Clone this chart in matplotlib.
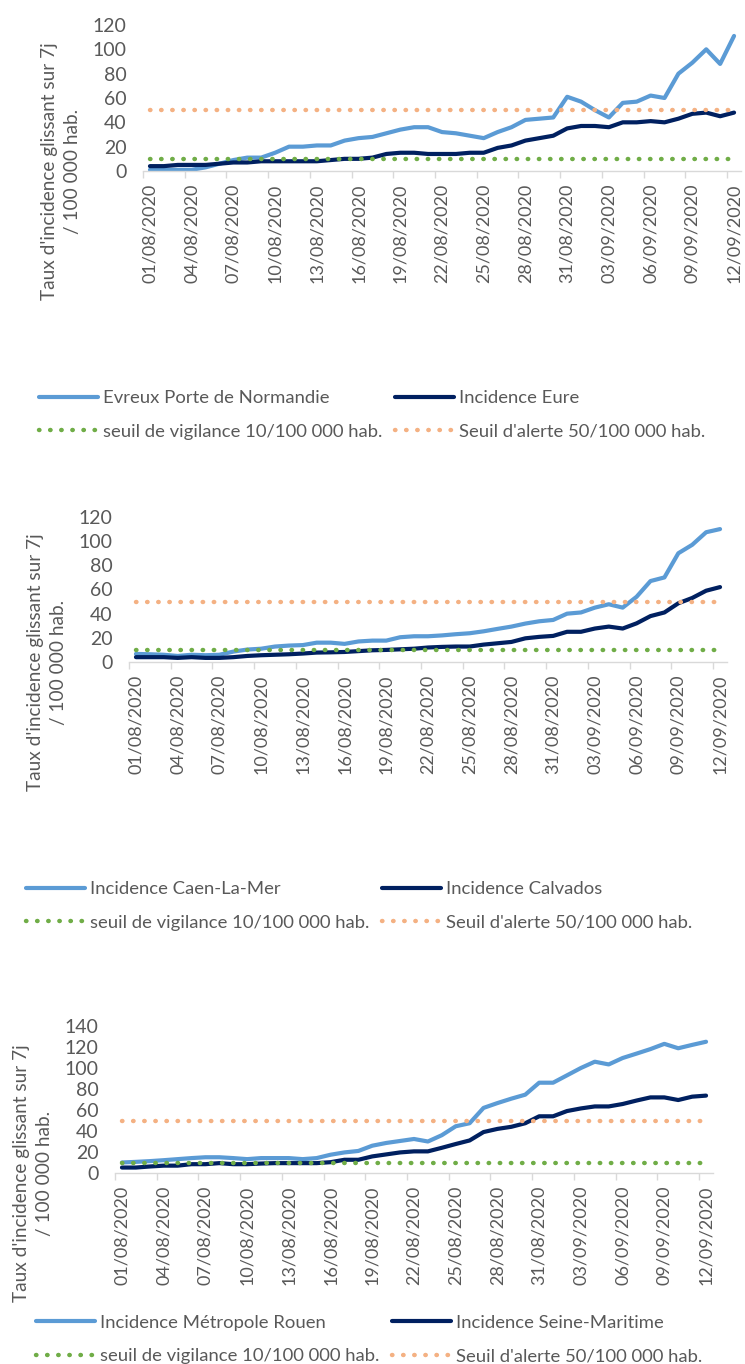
import numpy as np
import pandas as pd
import matplotlib
matplotlib.use("Agg")
import matplotlib.pyplot as plt

plt.rcParams['font.family'] = ['Lato', 'DejaVu Sans']

# daily dates 01/08/2020 -> 12/09/2020
dates = pd.date_range('2020-08-01', '2020-09-12', freq='D')
date_labels = [d.strftime('%d/%m/%Y') for d in dates]

# panel 1 - Eure
evreux = [1, 1, 1, 1, 3, 6, 9, 11, 11, 15, 20, 20, 21, 21, 25, 27, 28, 31, 34, 36, 36,
          32, 31, 29, 27, 32, 36, 42, 43, 44, 61, 57, 50, 44, 56, 57, 62, 60, 80, 89, 100, 88, 111]
eure = [4, 4, 5, 5, 5, 6, 7, 7, 8, 8, 8, 8, 8, 9, 10, 10, 11, 14, 15, 15, 14,
        14, 14, 15, 15, 19, 21, 25, 27, 29, 35, 37, 37, 36, 40, 40, 41, 40, 43, 47, 48, 45, 48]

# panel 2 - Calvados
caen = [6.7, 6.4, 6, 5, 6, 5.6, 6, 8.6, 10.3, 11, 12.8, 13.6, 14, 16, 16, 15, 17, 17.7, 17.7, 20.5, 21.3,
        21.3, 22, 23, 23.8, 25.4, 27.4, 29.3, 31.8, 33.7, 34.8, 40, 41, 45, 47.8, 45, 54, 67, 70, 90, 97, 107.4, 110]
calvados = [4, 4, 4, 3.4, 4, 3.4, 3.4, 4, 5, 5.6, 6, 6.4, 7, 7.8, 8, 8.3, 9, 9.7, 10, 10.5, 11,
            12, 12.5, 12.8, 12.8, 14.4, 15.5, 16.6, 19.6, 20.8, 21.6, 25, 25, 27.7, 29.3, 27.7, 32, 38, 41, 48.6, 53, 59, 62]

# panel 3 - Seine-Maritime
rouen = [10, 10.6, 11.3, 12.2, 13.2, 14.2, 15, 15, 14.2, 13.2, 14.2, 14.2, 14.2, 13.2, 14.2, 17.4, 19.6, 21, 26, 28.6, 30.5,
         32.4, 30, 36, 44.5, 47.4, 62, 66.6, 70.8, 74.6, 86, 86, 93, 100, 106, 103.4, 109.5, 113.7, 118, 123, 118.8, 122, 125]
seine_maritime = [5.2, 5.2, 6.2, 7, 7, 8.4, 8.4, 9.4, 8.4, 8.4, 9, 9.4, 9.4, 9.4, 9.4, 10.3, 12.6, 12.6, 15.8, 17.7, 19.6,
                  20.6, 20.6, 24, 27.6, 31, 39, 42, 44, 47.4, 54, 54, 59, 61.5, 63.4, 63.4, 65.7, 69, 72, 72, 69.5, 72.7, 73.7]

seuil_vigilance = 10
seuil_alerte = 50

W, H = 745, 1364
panels = [
    # local, dept, labels, ymax, axes (left px, bottom px, width px, height px), legend (x px, row1 px, row2 px)
    (evreux, eure, 'Evreux Porte de Normandie', 'Incidence Eure', 120,
     (143, 171, 598, 146), (39, 398, 432)),
    (caen, calvados, 'Incidence Caen-La-Mer', 'Incidence Calvados', 120,
     (129, 662, 598, 145), (26, 889, 923)),
    (rouen, seine_maritime, 'Incidence Métropole Rouen', 'Incidence Seine-Maritime', 140,
     (115, 1173, 598, 147), (36, 1322, 1357)),
]

light_blue = '#5B9BD5'
navy = '#002060'
green = '#70AD47'
orange = '#F4B183'
grey_txt = '#595959'
dots = (0, (0.1, 2.4))

fig = plt.figure(figsize=(W / 100, H / 100), dpi=100)

x = np.arange(len(dates))
for local, dept, lab_local, lab_dept, ymax, (axl, axb, axw, axh), (lgx, row1, row2) in panels:
    ax = fig.add_axes([axl / W, 1 - axb / H, axw / W, axh / H])
    l1, = ax.plot(x, local, color=light_blue, lw=3, solid_capstyle='round', label=lab_local)
    l2, = ax.plot(x, dept, color=navy, lw=3, solid_capstyle='round', label=lab_dept)
    l3, = ax.plot(x, np.full(len(x), seuil_vigilance), color=green, lw=3.2,
                  linestyle=dots, dash_capstyle='round',
                  label='seuil de vigilance 10/100 000 hab.')
    l4, = ax.plot(x, np.full(len(x), seuil_alerte), color=orange, lw=3.2,
                  linestyle=dots, dash_capstyle='round',
                  label="Seuil d'alerte 50/100 000 hab.")

    ax.set_xlim(-0.5, len(x) - 0.5)
    ax.set_ylim(0, ymax)
    ax.set_yticks(np.arange(0, ymax + 1, 20))
    ax.tick_params(axis='y', length=0, pad=12, labelsize=14, labelcolor=grey_txt)

    ax.set_xticks(x[::3])
    ax.set_xticklabels(date_labels[::3], rotation=90)
    ax.set_xticks(np.arange(-0.5, len(x) - 1, 3), minor=True)
    ax.tick_params(axis='x', which='major', length=0, pad=9, labelsize=13, labelcolor=grey_txt)
    ax.tick_params(axis='x', which='minor', length=5, color='#D9D9D9', width=1)

    for s in ['top', 'right', 'left']:
        ax.spines[s].set_visible(False)
    ax.spines['bottom'].set_color('#D9D9D9')
    ax.spines['bottom'].set_linewidth(1)

    # y axis title, centred on the axis baseline
    fig.text((axl - 82) / W, 1 - axb / H,
             "Taux d'incidence glissant sur 7j\n/ 100 000 hab.",
             rotation=90, ha='center', va='center', multialignment='center',
             fontsize=13.7, color=grey_txt, linespacing=1.4)

    # two legend columns, placed separately
    mid = 1 - (row1 + row2) / 2 / H
    opts = dict(frameon=False, loc='center left', bbox_transform=fig.transFigure,
                fontsize=13.3, handlelength=3.2, handletextpad=0.27,
                labelspacing=0.95, borderaxespad=0, borderpad=0)
    leg1 = ax.legend(handles=[l1, l3], bbox_to_anchor=(lgx / W, mid), **opts)
    ax.add_artist(leg1)
    leg2 = ax.legend(handles=[l2, l4], bbox_to_anchor=((lgx + 356) / W, mid), **opts)
    for leg in (leg1, leg2):
        for t in leg.get_texts():
            t.set_color(grey_txt)

fig.savefig('out.png', dpi=100)
